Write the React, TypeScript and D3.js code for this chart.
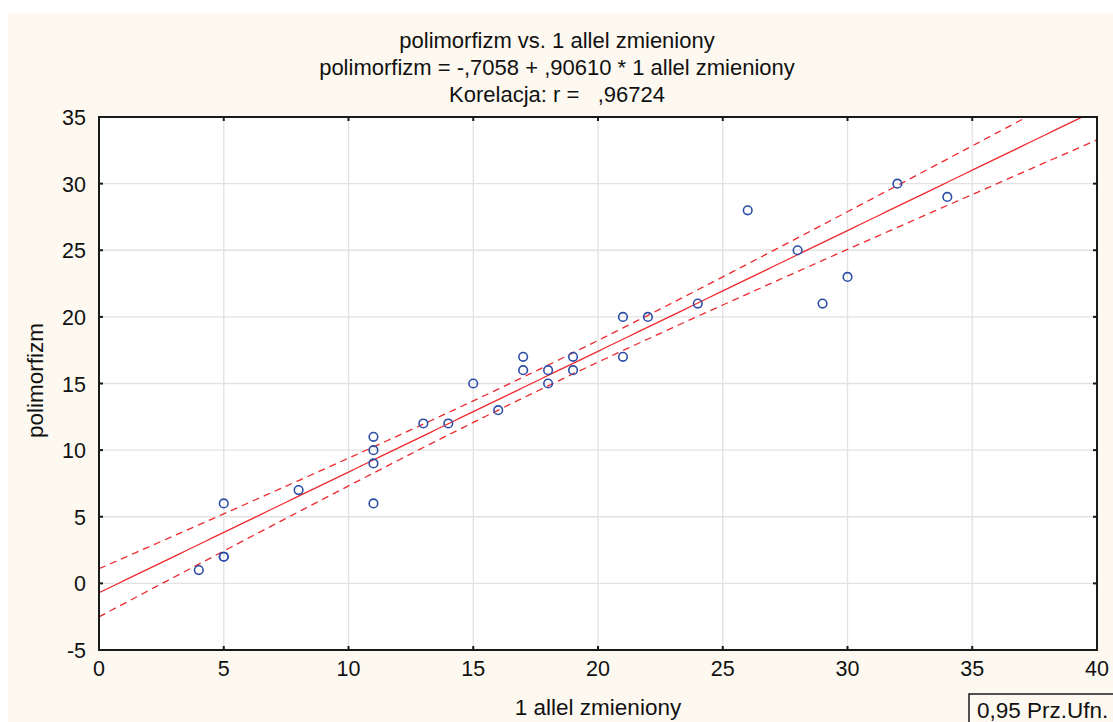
import React from "react";
import * as d3 from "d3";

const xs = [4, 5, 5, 5, 8, 11, 11, 11, 11, 13, 14, 15, 16, 17, 17, 18, 18, 19, 19, 21, 21, 22, 24, 26, 28, 29, 30, 32, 34];
const ys = [1, 2, 2, 6, 7, 6, 9, 10, 11, 12, 12, 15, 13, 16, 17, 15, 16, 16, 17, 17, 20, 20, 21, 28, 25, 21, 23, 30, 29];
const intercept = -0.7058;
const slope = 0.9061;
const xTicks = [0, 5, 10, 15, 20, 25, 30, 35, 40];
const yTicks = [-5, 0, 5, 10, 15, 20, 25, 30, 35];
const titleLines = [
  "polimorfizm vs. 1 allel zmieniony",
  "polimorfizm = -,7058 + ,90610 * 1 allel zmieniony",
  "Korelacja: r =   ,96724",
];

export default function App() {
  const W = 1113, H = 722;
  const L = 99, R = 1097, T = 117, B = 650;
  const x = d3.scaleLinear().domain([0, 40]).range([L, R]);
  const y = d3.scaleLinear().domain([-5, 35]).range([B, T]);
  const n = xs.length;
  const mx = d3.mean(xs)!;
  const sxx = d3.sum(xs, (v) => (v - mx) ** 2);
  const sse = d3.sum(xs, (v, i) => (ys[i] - (intercept + slope * v)) ** 2);
  const s = Math.sqrt(sse / (n - 2));
  const t = 2.052;
  const grid = d3.range(0, 40.01, 0.25);
  const fit = (v: number) => intercept + slope * v;
  const hw = (v: number) => t * s * Math.sqrt(1 / n + (v - mx) ** 2 / sxx);
  const mainPath = d3.line<number>().x((v) => x(v)).y((v) => y(fit(v)))(grid)!;
  const upPath = d3.line<number>().x((v) => x(v)).y((v) => y(fit(v) + hw(v)))(grid)!;
  const loPath = d3.line<number>().x((v) => x(v)).y((v) => y(fit(v) - hw(v)))(grid)!;
  const font = "'Liberation Sans', Arial, sans-serif";
  const red = "#EE2A2E";
  return (
    <svg width={W} height={H} style={{ position: "absolute", left: 0, top: 0 }} fontFamily={font}>
      <rect x={0} y={0} width={W} height={H} fill="#ffffff" />
      <rect x={8} y={13} width={W - 8} height={H - 13} fill="#FDF9F0" />
      {titleLines.map((s2, i) => (
        <text key={i} x={557} y={48 + i * 27} textAnchor="middle" fontSize={22} fill="#111" style={{ whiteSpace: "pre" }}>
          {s2}
        </text>
      ))}
      <defs>
        <clipPath id="plot">
          <rect x={L} y={T} width={R - L} height={B - T} />
        </clipPath>
      </defs>
      <rect x={L} y={T} width={R - L} height={B - T} fill="#ffffff" />
      {xTicks.slice(1, -1).map((v) => (
        <line key={"gx" + v} x1={x(v)} x2={x(v)} y1={T} y2={B} stroke="#E2E2E2" strokeWidth={1.3} />
      ))}
      {yTicks.slice(1, -1).map((v) => (
        <line key={"gy" + v} x1={L} x2={R} y1={y(v)} y2={y(v)} stroke="#E2E2E2" strokeWidth={1.3} />
      ))}
      <g clipPath="url(#plot)" fill="none" stroke={red} strokeWidth={1.3}>
        <path d={mainPath} />
        <path d={upPath} strokeDasharray="7,5" />
        <path d={loPath} strokeDasharray="7,5" />
      </g>
      {xs.map((v, i) => (
        <circle key={i} cx={x(v)} cy={y(ys[i])} r={4.3} fill="none" stroke="#2E4FA8" strokeWidth={1.6} />
      ))}
      <rect x={L} y={T} width={R - L} height={B - T} fill="none" stroke="#1a1a1a" strokeWidth={2} />
      {xTicks.slice(1, -1).map((v) => (
        <g key={"tx" + v} stroke="#1a1a1a" strokeWidth={2}>
          <line x1={x(v)} x2={x(v)} y1={B} y2={B - 4} />
          <line x1={x(v)} x2={x(v)} y1={T} y2={T + 4} />
        </g>
      ))}
      {yTicks.slice(1, -1).map((v) => (
        <g key={"ty" + v} stroke="#1a1a1a" strokeWidth={2}>
          <line x1={L} x2={L + 4} y1={y(v)} y2={y(v)} />
          <line x1={R} x2={R - 4} y1={y(v)} y2={y(v)} />
        </g>
      ))}
      {xTicks.map((v) => (
        <text key={"lx" + v} x={x(v)} y={676} textAnchor="middle" fontSize={21.5} fill="#111">
          {v}
        </text>
      ))}
      {yTicks.map((v) => (
        <text key={"ly" + v} x={86} y={y(v) + 8} textAnchor="end" fontSize={21.5} fill="#111">
          {v}
        </text>
      ))}
      <text x={598} y={715} textAnchor="middle" fontSize={22.5} fill="#111">1 allel zmieniony</text>
      <text transform={`translate(43,${(T + B) / 2 - 3}) rotate(-90)`} textAnchor="middle" fontSize={22.5} fill="#111">polimorfizm</text>
      <rect x={969} y={694} width={150} height={40} fill="none" stroke="#1a1a1a" strokeWidth={1.5} />
      <text x={977} y={718} fontSize={22.5} fill="#111">0,95 Prz.Ufn.</text>
    </svg>
  );
}
